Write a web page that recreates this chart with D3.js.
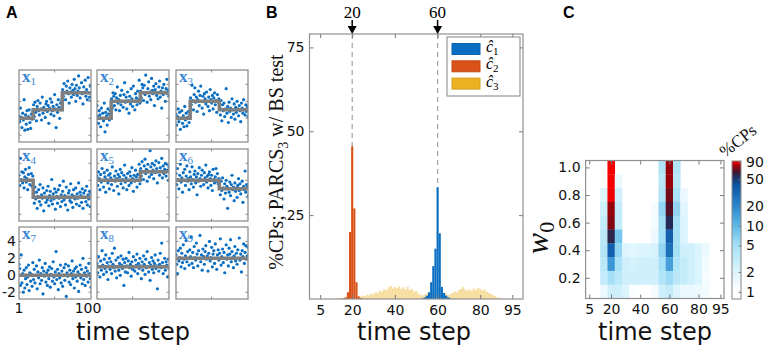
<!DOCTYPE html>
<html>
<head>
<meta charset="utf-8">
<script src="https://cdnjs.cloudflare.com/ajax/libs/d3/7.8.5/d3.min.js"></script>
<style>
  body { margin: 0; background: #fff; }
  svg { display: block; }
</style>
</head>
<body>
<svg id="fig" width="772" height="349"></svg>
<script>
// ---------- data: panel A (9 simulated signals, 100 time steps each) ----------
const changePts = [20, 60];
const stepLevels = [[0, 1, 3], [0, 2, 3], [0, 2, 1], [2, 0, 0], [2, 2, 3], [2, 2, 1], [0, 0, 0], [1, 1, 1], [2, 2, 2]];

const x1Obs = [0.3, -0.4, 1.2, 0.1, -1.1, 0.6, -0.2, 2.2, -1.4, 0.4, -0.7, 0.9, -1.3, 0.2, 1.0, -0.5, -1.2, 0.5, -0.1, 0.8,
  1.6, 0.2, 1.9, 0.7, -0.3, 1.4, 2.1, 0.9, 0.4, 1.8, 1.1, -0.2, 2.5, 0.6, 1.3, 1.0, 0.1, 1.7, 2.0, 0.8,
  1.5, -0.6, 1.2, 2.3, 0.5, 1.9, 0.9, 1.4, 0.3, 2.8, 1.1, -1.1, 1.6, 0.7, 2.2, 1.3, 0.0, 1.8, 1.0, 2.1,
  3.4, 2.6, 4.1, 3.0, 2.2, 3.8, 3.2, 4.4, 2.9, 1.8, 3.6, 3.1, 2.5, 4.0, 3.3, 2.8, 4.6, 3.5, 2.0, 3.9,
  2.7, 3.2, 5.0, 3.6, 2.4, 3.0, 4.2, 2.9, 1.7, 3.7, 3.1, 4.5, 2.6, 3.4, 2.2, 4.8, 3.0, 2.5, 3.8, 2.1];
const x2Obs = [1.5, 0.2, -0.6, 0.9, 0.4, -1.0, 1.2, 0.0, 0.6, -0.3, 1.8, -1.6, 0.7, 0.3, -0.8, 1.1, 0.5, -0.2, 0.9, 0.1,
  2.3, 1.2, 3.0, 2.6, 1.5, 2.9, 1.0, 2.4, 3.7, 1.8, 2.2, 0.9, 2.7, 1.6, 3.3, 2.0, 1.3, 2.8, 4.2, 1.9,
  2.5, 1.1, 3.1, 2.1, 0.6, 2.6, 1.7, 3.5, 2.3, 1.4, 3.8, 2.0, 1.0, 2.9, 2.4, 1.6, 3.2, 2.2, 4.5, 1.8,
  3.2, 2.4, 4.0, 3.6, 2.1, 3.9, 2.8, 5.1, 3.0, 1.9, 3.5, 4.3, 2.6, 3.1, 2.2, 4.7, 3.3, 2.9, 3.8, 1.5,
  3.4, 4.1, 2.7, 3.0, 2.3, 3.7, 4.4, 2.5, 3.2, 1.2, 3.6, 2.8, 4.0, 3.1, 2.0, 3.5, 4.6, 2.9, 3.3, 2.6];
const x3Obs = [0.5, -0.8, 0.2, 1.1, -0.4, 0.7, -1.3, 0.0, 0.9, -0.6, 0.3, -1.0, 1.4, -0.2, 0.6, -0.9, 0.1, 0.8, -0.5, 0.4,
  2.4, 1.6, 3.9, 2.1, 1.0, 2.8, 3.6, 1.9, 2.5, 0.8, 2.2, 3.2, 1.5, 2.7, 3.8, 2.0, 1.2, 2.6, 0.5, 2.9,
  2.3, 1.7, 3.1, 2.0, 1.4, 2.5, 0.9, 3.4, 2.2, 1.8, 2.7, 1.1, 2.4, 3.0, 1.6, 2.1, 0.7, 2.8, 1.9, 2.3,
  1.3, 0.4, 2.1, -0.3, 1.6, 0.9, 1.8, 0.2, 1.1, 3.5, 0.6, 1.4, -0.5, 1.9, 0.8, 1.2, 0.1, 2.3, 1.0, 0.5,
  1.7, -0.1, 1.3, 0.7, 2.0, 1.1, 0.3, 1.5, 0.9, -0.4, 1.8, 1.2, 0.6, 2.2, 1.0, 0.4, 1.6, 0.8, 1.4, 0.2];
const x4Obs = [2.6, 1.4, 4.6, 2.1, 3.0, 1.7, 2.9, 1.1, 2.4, 3.3, 1.8, 2.2, 0.9, 2.7, 3.5, 1.5, 2.0, 2.8, 1.3, 2.5,
  0.4, -0.7, 1.2, -0.2, 0.6, -1.3, 0.1, 0.9, -0.5, 1.5, -0.9, 0.3, -0.1, 1.1, -1.6, 0.5, 0.0, -0.6, 0.8, -0.3,
  1.3, -1.0, 0.2, 0.7, -0.4, 2.1, -0.8, 0.4, -0.2, 1.0, -1.4, 0.6, 0.1, -0.7, 0.9, -0.1, 1.4, -1.1, 0.3, -0.5,
  0.7, 1.9, -0.3, 0.2, -0.9, 1.2, 0.0, -1.5, 0.5, 0.8, -0.4, 1.6, -0.6, 0.3, -1.2, 0.9, 0.1, -0.2, 1.1, -0.8,
  0.4, -0.1, 1.7, -1.0, 0.6, 0.2, -0.6, 1.0, -1.3, 0.5, 0.0, 0.8, -0.5, 1.3, -0.9, 0.3, -0.2, 0.7, -1.1, 0.4];
const x5Obs = [2.5, 1.4, 3.0, 2.2, 0.9, 2.7, 1.8, 3.4, 2.0, 1.2, 2.9, 2.4, 0.6, 2.1, 3.2, 1.7, 2.6, 1.0, 2.8, 2.3,
  1.5, 3.6, 2.0, 0.8, 2.5, 1.9, 3.1, 2.2, 1.3, 2.7, 0.4, 2.4, 3.3, 1.6, 2.9, 2.1, 1.1, 2.6, 3.8, 1.8,
  2.3, 0.9, 2.8, 2.0, 1.4, 3.0, 2.5, 1.7, 3.5, 2.2, 0.7, 2.6, 1.9, 3.2, 2.4, 1.2, 2.7, 2.0, 3.9, 1.6,
  3.4, 2.5, 4.2, 3.0, 2.1, 3.7, 4.5, 2.8, 3.3, 1.9, 3.9, 3.1, 2.4, 5.5, 3.6, 2.7, 4.0, 3.2, 2.2, 3.8,
  2.9, 4.3, 3.4, 1.7, 3.0, 4.1, 2.6, 3.5, 3.1, 4.6, 2.3, 3.7, 2.8, 3.3, 4.0, 2.5, 3.9, 3.2, 2.0, 3.6];
const x6Obs = [2.8, 1.5, 3.4, 2.1, 1.0, 2.6, 3.9, 1.8, 2.3, 0.6, 2.9, 2.0, 3.3, 1.4, 2.5, 3.7, 1.9, 2.2, 0.9, 3.0,
  2.4, 1.6, 3.6, 2.1, 1.2, 2.7, 3.1, 1.7, 2.4, 0.3, 2.8, 1.9, 3.5, 2.2, 1.3, 2.6, 3.2, 2.0, 1.5, 2.9,
  2.3, 3.8, 1.8, 2.5, 1.1, 2.7, 3.0, 2.2, 1.4, 2.6, 0.8, 3.3, 2.1, 1.7, 2.4, 3.4, 1.9, 2.8, 1.6, 2.2,
  1.4, 0.3, 1.9, 0.8, 2.3, 1.1, -0.2, 1.6, 0.5, 2.0, 1.3, -1.3, 1.0, 0.6, 1.8, 0.2, 1.5, 2.6, 0.9, 1.2,
  -0.4, 1.7, 0.7, 1.1, 0.0, 1.4, 2.2, 0.8, 1.6, 0.4, 1.0, 1.9, -0.6, 1.3, 0.9, 3.1, 0.6, 1.5, 1.2, 0.1];
const x7Obs = [1.3, 0.8, -1.2, 2.4, -0.9, 0.2, -2.0, 0.6, -1.5, -0.4, 0.9, -1.1, -0.2, 1.2, -1.8, 0.3, -0.7, 0.1, -1.3, 1.5,
  -0.5, 0.7, -0.9, 0.0, 1.1, -1.6, 0.4, -0.3, 1.8, -1.0, 0.2, -0.6, 0.9, -2.2, 0.5, -0.1, 1.4, -0.8, 0.3, -1.2,
  0.6, -0.4, 1.0, -1.4, 0.1, 0.8, -0.7, 1.6, -0.2, -1.0, 0.4, 2.8, -0.5, 0.7, -1.7, 0.2, -0.3, 1.2, -0.9, 0.5,
  -1.3, 0.0, 0.9, -0.6, 1.3, -2.5, 0.3, -0.1, 1.1, -0.8, 0.6, -1.1, 0.2, 1.7, -0.4, 0.5, -1.5, 0.8, -0.2, 1.0,
  -0.7, 0.4, -1.9, 0.1, 1.2, -0.3, 0.7, -1.0, 2.0, -0.5, 0.3, -1.2, 0.9, -0.1, 0.5, -0.8, 1.4, 0.2, -0.4, -1.4];
const x8Obs = [1.4, 0.3, 2.2, 1.0, -0.2, 1.7, 0.6, 2.9, 1.2, 0.1, 1.9, 0.8, 2.4, 0.4, 1.5, -0.5, 1.1, 2.0, 0.7, 1.6,
  0.2, 2.6, 1.3, 0.9, 3.2, 0.5, 1.8, -0.3, 1.0, 2.1, 0.6, 1.4, 0.0, 2.3, 1.2, 0.8, 1.9, -1.2, 1.5, 0.4,
  2.0, 1.1, 0.3, 1.7, 2.7, 0.9, 1.3, -0.1, 1.6, 0.7, 2.2, 1.0, 0.5, 1.8, 1.2, 2.5, 0.2, 1.4, 0.8, 2.0,
  1.1, -0.4, 1.6, 0.6, 2.3, 1.3, 0.1, 1.9, 0.9, 2.8, 1.0, 0.4, 1.5, -0.6, 1.2, 2.1, 0.7, 1.7, 0.3, 1.4,
  2.4, 0.8, 1.1, -1.6, 1.8, 0.5, 1.3, 2.6, 0.9, 3.8, 1.5, 0.2, 1.0, 2.0, 0.6, 1.6, 1.2, -0.2, 1.9, 0.8];
const x9Obs = [2.4, 1.3, 0.2, 2.9, 1.7, 2.1, 3.2, 1.0, 2.6, 1.5, 3.6, 1.9, 0.8, 2.3, 4.1, 1.6, 2.8, 2.0, 1.2, 3.0,
  2.2, 4.5, 1.4, 2.7, 0.9, 3.4, 2.1, 1.8, 3.8, 2.5, 1.1, 2.9, 2.0, 4.7, 1.6, 2.4, 0.6, 3.1, 2.2, 1.3,
  2.8, 3.5, 1.9, 2.3, 0.5, 2.6, 4.0, 1.7, 2.1, 3.3, 1.0, 2.5, 2.9, 1.4, 3.7, 2.0, 0.7, 2.4, 3.0, 1.8,
  2.6, 4.3, 1.2, 2.2, 3.1, 1.5, 2.7, 0.3, 2.0, 3.6, 1.9, 2.4, 1.1, 3.2, 2.5, 4.2, 1.6, 2.8, 2.1, 0.9,
  2.3, 3.4, 1.7, 2.6, 1.3, 3.0, 2.0, 4.4, 1.8, 2.5, 0.4, 2.9, 2.2, 3.7, 1.4, 2.7, 3.5, 1.9, 2.3, 3.3];
const obsA = [x1Obs, x2Obs, x3Obs, x4Obs, x5Obs, x6Obs, x7Obs, x8Obs, x9Obs];

// ---------- data: panel B (histogram of detected CPs, % per time step) ----------
const c1Steps = [53, 54, 55, 56, 57, 58, 59, 60, 61, 62, 63, 64, 65, 66];
const c1Pct   = [0.2, 0.5, 1.0, 2.0, 5.0, 9.8, 15.0, 33.3, 19.6, 3.6, 1.8, 1.0, 0.5, 0.2];
const c2Steps = [16, 17, 18, 19, 20, 21, 22, 23, 24];
const c2Pct   = [0.2, 0.5, 2.0, 20.0, 45.5, 27.0, 5.0, 0.8, 0.3];
const c3Steps = [12, 13, 14, 15, 16, 17, 18, 19, 20, 21, 22, 23, 24, 25, 26, 27, 28, 29, 30, 31, 32, 33, 34, 35, 36, 37, 38, 39, 40,
  41, 42, 43, 44, 45, 46, 47, 48, 49, 50, 51, 52, 53, 54, 55, 56, 57, 58, 59, 60, 61, 62, 63, 64, 65, 66, 67, 68, 69, 70,
  71, 72, 73, 74, 75, 76, 77, 78, 79, 80, 81, 82, 83, 84, 85, 86, 87, 88, 89, 90];
const c3Pct   = [0.2, 0.3, 0.2, 0.4, 0.3, 0.5, 0.4, 0.6, 0.5, 0.4, 0.5, 0.6, 0.8, 1.0, 0.9, 1.3, 1.1, 1.6, 1.4, 2.0, 1.8, 2.5, 2.2, 3.0, 2.6, 3.4, 3.9, 3.1, 3.6,
  3.2, 3.8, 3.0, 3.5, 2.8, 3.7, 2.7, 3.0, 2.2, 2.4, 1.6, 1.3, 1.1, 1.4, 1.7, 1.5, 1.9, 1.6, 1.3, 1.2, 1.4, 1.8, 1.5, 1.7, 1.2, 1.4, 1.8, 2.3, 2.0, 2.7,
  3.0, 3.6, 2.8, 2.5, 2.9, 2.4, 3.1, 2.7, 3.3, 3.0, 2.6, 2.8, 2.2, 1.8, 1.5, 1.1, 0.8, 0.5, 0.3, 0.2];
const trueCPs = [20, 60];
const bXTicks = [5, 20, 40, 60, 80, 95];
const bYTicks = [25, 50, 75];

// ---------- data: panel C (% CPs by time step and w0) ----------
const cTimes = [5, 10, 15, 20, 25, 30, 35, 40, 45, 50, 55, 60, 65, 70, 75, 80, 85, 90, 95];
const cW0 = [1.0, 0.9, 0.8, 0.7, 0.6, 0.5, 0.4, 0.3, 0.2, 0.1];
const cpGrid = [
  [0, 0, 0,   93, 0,   0,   0,   0,   0,   0,   4,   78, 4,   0,   0,   0,   0,   0, 0],
  [0, 0, 0,   93, 1.5, 0,   0,   0,   0,   0,   3.5, 78, 3.5, 0,   0,   0,   0,   0, 0],
  [0, 0, 2,   92, 2.5, 0,   0,   0,   0,   0,   4,   72, 4.5, 1.5, 0,   0,   0,   0, 0],
  [0, 0, 2.5, 78, 3,   0,   0,   0,   0,   1.2, 6,   66, 6,   1.8, 0,   0,   0,   0, 0],
  [0, 0, 3,   74, 3,   0,   0,   0,   0,   1.3, 5,   56, 5,   2,   0,   0,   0,   0, 0],
  [0, 0, 3.5, 58, 8,   0,   0,   0,   0,   1.5, 5,   35, 5,   2,   0,   0,   0,   0, 0],
  [0, 0, 4,   35, 6,   2,   1.8, 2,   2,   2.2, 6,   28, 5,   2.5, 2.5, 2,   1.5, 0, 0],
  [0, 0, 3.5, 16, 4.5, 2.5, 2.2, 2.5, 2.5, 2.5, 5,   14, 4,   3,   2.5, 2,   1.3, 0, 0],
  [0, 0, 3,   5,  3.5, 2.5, 2.5, 2.5, 2.5, 2.5, 4,   5.5, 3.5, 3,  2.5, 2,   1.2, 0, 0],
  [0, 0, 1.5, 2.5, 2.5, 2,  1.1, 1.0, 1.0, 1.2, 2.5, 3,   2,   1.5, 1.5, 1.5, 1.3, 0, 0]
];
const cXTicks = [5, 20, 40, 60, 80, 95];
const cYTicks = [0.2, 0.4, 0.6, 0.8, 1.0];
const cbTicks = [1, 2, 5, 10, 20, 50, 90];
const cbStops = [0.8, 1, 2, 5, 10, 20, 40, 55, 65, 80, 95];
const cbColors = ["#ffffff", "#ffffff", "#dcf4fd", "#a6e0f7", "#5fb8e6", "#2a86cb", "#0d56a6", "#1f2d5c", "#4a1228", "#a30006", "#ff0000"];

// ---------- drawing ----------
const svg = d3.select("#fig");
const serif = '"Liberation Serif","DejaVu Serif",serif';
const sans = '"DejaVu Sans",sans-serif';
const frameCol = "#8f8f8f";
const blue = "#0a6fc2", orange = "#d95319", yellow = "#edb120";

function panelLetter(txt, x) {
  svg.append("text").attr("x", x).attr("y", 18).attr("font-family", "Liberation Sans, Arial, sans-serif")
    .attr("font-weight", "bold").attr("font-size", 16).text(txt);
}
function xLabel(cx) {
  svg.append("text").attr("x", cx).attr("y", 340).attr("text-anchor", "middle")
    .attr("font-family", sans).attr("font-size", 24).attr("fill", "#111").text("time step");
}
function styleAxis(g) {
  g.attr("font-family", sans).attr("font-size", 14);
  g.selectAll(".domain").remove();
  g.selectAll(".tick line").attr("stroke", "#777");
  g.selectAll(".tick text").attr("fill", "#111");
}
// box with inward ticks on all four sides
function boxAxes(g, x, y, xt, yt, fmtY) {
  const [x0, x1] = x.range(), [y0, y1] = y.range();
  g.append("g").attr("transform", `translate(0,${y0})`)
    .call(d3.axisBottom(x).tickValues(xt).tickSize(-4).tickPadding(6)).call(styleAxis);
  g.append("g").attr("transform", `translate(0,${y1})`)
    .call(d3.axisTop(x).tickValues(xt).tickSize(-4).tickFormat("")).call(styleAxis);
  g.append("g").attr("transform", `translate(${x0},0)`)
    .call(d3.axisLeft(y).tickValues(yt).tickSize(-4).tickPadding(5).tickFormat(fmtY)).call(styleAxis);
  g.append("g").attr("transform", `translate(${x1},0)`)
    .call(d3.axisRight(y).tickValues(yt).tickSize(-4).tickFormat("")).call(styleAxis);
  g.append("rect").attr("x", x0).attr("y", y1).attr("width", x1 - x0).attr("height", y0 - y1)
    .attr("fill", "none").attr("stroke", frameCol).attr("stroke-width", 1.2);
}

// ---- panel A ----
panelLetter("A", 6);
const aLeft = [19, 97, 176], aTop = [70, 149, 227], aSize = 72;
const gA = svg.append("g");
obsA.forEach((vals, i) => {
  const r = Math.floor(i / 3), c = i % 3;
  const x0 = aLeft[c], y0 = aTop[r];
  const x = d3.scaleLinear().domain([1, 100]).range([x0, x0 + aSize]);
  const y = d3.scaleLinear().domain([-2.8, 5.7]).range([y0 + aSize, y0]);
  const g = gA.append("g");
  g.append("clipPath").attr("id", "clipA" + i).append("rect")
    .attr("x", x0).attr("y", y0).attr("width", aSize).attr("height", aSize);
  const body = g.append("g").attr("clip-path", `url(#clipA${i})`);

  body.selectAll("circle").data(vals).join("circle")
    .attr("cx", (d, j) => x(j + 1)).attr("cy", d => y(d)).attr("r", 1.6).attr("fill", blue);

  const lv = stepLevels[i];
  const steps = [[1, lv[0]], [changePts[0] + 0.5, lv[1]], [changePts[1] + 0.5, lv[2]], [100, lv[2]]];
  body.append("path").datum(steps)
    .attr("d", d3.line().x(d => x(d[0])).y(d => y(d[1])).curve(d3.curveStepAfter))
    .attr("fill", "none").attr("stroke", "#7f7f7f").attr("stroke-width", 3.5);

  // inward ticks
  [-2, 0, 2, 4].forEach(v => {
    g.append("line").attr("x1", x0).attr("x2", x0 + 2.5).attr("y1", y(v)).attr("y2", y(v)).attr("stroke", "#888");
    g.append("line").attr("x1", x0 + aSize).attr("x2", x0 + aSize - 2.5).attr("y1", y(v)).attr("y2", y(v)).attr("stroke", "#888");
  });
  [50].forEach(t => {
    g.append("line").attr("x1", x(t)).attr("x2", x(t)).attr("y1", y0).attr("y2", y0 + 2.5).attr("stroke", "#888");
    g.append("line").attr("x1", x(t)).attr("x2", x(t)).attr("y1", y0 + aSize).attr("y2", y0 + aSize - 2.5).attr("stroke", "#888");
  });
  g.append("rect").attr("x", x0).attr("y", y0).attr("width", aSize).attr("height", aSize)
    .attr("fill", "none").attr("stroke", frameCol).attr("stroke-width", 1.3);

  const lab = g.append("text").attr("x", x0 + 3).attr("y", y0 + 12).attr("font-family", serif)
    .attr("font-size", 17).attr("font-weight", "bold").attr("fill", "#3a86d2").text("x");
  lab.append("tspan").attr("dy", 3).attr("font-size", 11).attr("font-weight", "normal").text(i + 1);

  if (i === 6) {
    [-2, 0, 2, 4].forEach(v => {
      g.append("text").attr("x", x0 - 3).attr("y", y(v)).attr("dy", "0.36em").attr("text-anchor", "end")
        .attr("font-family", sans).attr("font-size", 14).attr("fill", "#111").text(v);
    });
    [1, 100].forEach(t => {
      g.append("text").attr("x", x(t) - (t === 100 ? 3 : 0)).attr("y", y0 + aSize + 14).attr("text-anchor", "middle")
        .attr("font-family", sans).attr("font-size", 14).attr("fill", "#111").text(t);
    });
  }
});
xLabel(133);

// ---- panel B ----
panelLetter("B", 266);
const bx = d3.scaleLinear().domain([0, 100]).range([309.5, 523]);
const by = d3.scaleLinear().domain([0, 79]).range([299, 34]);
const gB = svg.append("g");
const bw = bx(1) - bx(0);
function bars(steps, pct, fill, op) {
  gB.append("g").selectAll("rect").data(steps).join("rect")
    .attr("x", d => bx(d - 0.5)).attr("width", bw)
    .attr("y", (d, i) => by(pct[i])).attr("height", (d, i) => by(0) - by(pct[i]))
    .attr("fill", fill).attr("fill-opacity", op);
}
trueCPs.forEach(t => {
  gB.append("line").attr("x1", bx(t)).attr("x2", bx(t)).attr("y1", by.range()[1]).attr("y2", by(0))
    .attr("stroke", "#9a9a9a").attr("stroke-width", 1.1).attr("stroke-dasharray", "5,4");
});
bars(c3Steps, c3Pct, yellow, 0.42);
bars(c2Steps, c2Pct, orange, 1);
bars(c1Steps, c1Pct, blue, 1);
boxAxes(gB, bx, by, bXTicks, bYTicks, d3.format("d"));

// arrows marking true change points
trueCPs.forEach(t => {
  const xx = bx(t);
  svg.append("text").attr("x", xx).attr("y", 18).attr("text-anchor", "middle")
    .attr("font-family", serif).attr("font-size", 17).text(t);
  svg.append("line").attr("x1", xx).attr("x2", xx).attr("y1", 20).attr("y2", 28).attr("stroke", "#000").attr("stroke-width", 1.5);
  svg.append("path").attr("d", `M${xx - 4.5},26 L${xx + 4.5},26 L${xx},34 Z`).attr("fill", "#000");
});

// y label
const ylab = svg.append("text").attr("transform", "translate(283,162) rotate(-90)").attr("text-anchor", "middle")
  .attr("font-family", serif).attr("font-size", 20).attr("fill", "#111");
ylab.append("tspan").text("%CPs; PARCS");
ylab.append("tspan").attr("dy", 5).attr("font-size", 14).text("3");
ylab.append("tspan").attr("dy", -5).text("  w/ BS test");

// legend
const legItems = [["1", blue], ["2", orange], ["3", yellow]];
const lg = svg.append("g");
lg.append("rect").attr("x", 447).attr("y", 37).attr("width", 73).attr("height", 59)
  .attr("fill", "#fff").attr("stroke", frameCol).attr("stroke-width", 1.1);
legItems.forEach(([k, col], i) => {
  const cy = 49 + i * 17.3;
  lg.append("rect").attr("x", 452).attr("y", cy - 5.5).attr("width", 28).attr("height", 11)
    .attr("fill", col).attr("stroke", d3.color(col).darker(0.3));
  const t = lg.append("text").attr("x", 486).attr("y", cy + 3).attr("font-family", serif)
    .attr("font-size", 16).attr("font-style", "italic").text("ĉ");
  t.append("tspan").attr("dy", 3).attr("font-size", 11).attr("font-style", "normal").text(k);
});
xLabel(414);

// ---- panel C ----
panelLetter("C", 563);
const cx = d3.scaleLinear().domain([2.5, 97.5]).range([585.6, 724]);
const cy = d3.scaleLinear().domain([0.05, 1.05]).range([298.5, 160.5]);
const color = d3.scaleLog().domain(cbStops).range(cbColors).clamp(true);
const gC = svg.append("g");
const cells = [];
cW0.forEach((w, r) => cTimes.forEach((t, c) => cells.push({ t, w, v: cpGrid[r][c] })));
gC.selectAll("rect.cell").data(cells.filter(d => d.v >= 1)).join("rect").attr("class", "cell")
  .attr("x", d => cx(d.t - 2.5)).attr("width", cx(5) - cx(0) + 0.3)
  .attr("y", d => cy(d.w + 0.05)).attr("height", cy(0) - cy(0.1) + 0.3)
  .attr("fill", d => color(d.v));
boxAxes(gC, cx, cy, cXTicks, cYTicks, d3.format(".1f"));

const w0 = svg.append("text").attr("transform", "translate(548,238) rotate(-90)").attr("text-anchor", "middle")
  .attr("font-family", serif).attr("font-size", 32).attr("font-style", "italic").attr("fill", "#111").text("w");
w0.append("tspan").attr("dy", 6).attr("font-size", 22).attr("font-style", "normal").text("0");

// colorbar
const cb = d3.scaleLog().domain([0.78, 94]).range([299, 161]);
const cbG = svg.append("g");
const cbSteps = d3.range(161, 299, 1);
cbG.selectAll("rect").data(cbSteps).join("rect")
  .attr("x", 732).attr("width", 9).attr("y", d => d).attr("height", 1.2)
  .attr("fill", d => color(cb.invert(d + 0.5)));
cbG.append("rect").attr("x", 732).attr("y", 161).attr("width", 9).attr("height", 138)
  .attr("fill", "none").attr("stroke", frameCol).attr("stroke-width", 1.1);
cbG.append("g").attr("transform", "translate(741,0)")
  .call(d3.axisRight(cb).tickValues(cbTicks).tickSize(-2.5).tickPadding(5).tickFormat(d3.format("d")))
  .call(styleAxis);
svg.append("text").attr("transform", "translate(725,158) rotate(-38)")
  .attr("font-family", serif).attr("font-size", 17).attr("fill", "#111").text("%CPs");
xLabel(655);
</script>
</body>
</html>
